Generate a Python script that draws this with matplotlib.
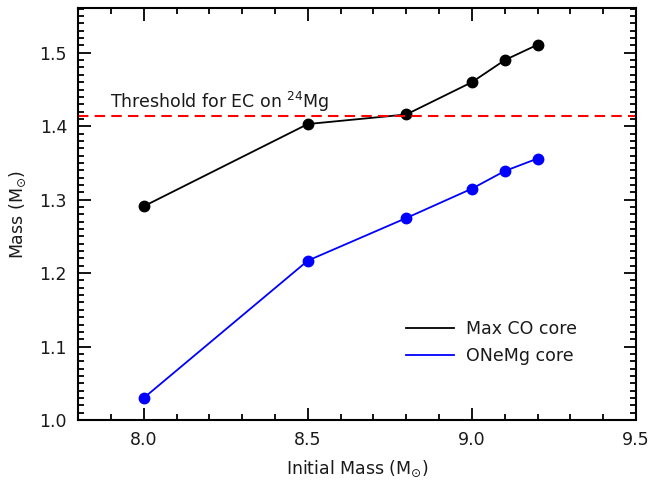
import matplotlib
matplotlib.use("Agg")
import matplotlib.pyplot as plt
from matplotlib.ticker import MultipleLocator, FormatStrFormatter

# Initial stellar masses (Msun)
initial_mass = [8.0, 8.5, 8.8, 9.0, 9.1, 9.2]
# Maximum CO core mass and ONeMg core mass (Msun)
max_co_core = [1.291, 1.403, 1.416, 1.460, 1.490, 1.511]
onemg_core = [1.030, 1.217, 1.275, 1.315, 1.339, 1.356]
# Threshold mass for electron captures on 24Mg
ec_threshold = 1.414

FS = 12.5
TXT = '#1a1a1a'
plt.rcParams['font.family'] = ['DejaVu Sans']
fig = plt.figure(figsize=(6.51, 4.87), dpi=100)
ax = fig.add_axes([0.12, 0.1376, 0.857, 0.846])

ax.plot(initial_mass, max_co_core, '-o', color='black', lw=1.3, ms=7.5,
        label='Max CO core')
ax.plot(initial_mass, onemg_core, '-o', color='blue', lw=1.3, ms=7.5,
        label='ONeMg core')
ax.axhline(ec_threshold, color='red', ls=(0, (5, 3)), lw=1.5)
ax.text(7.897, ec_threshold + 0.0105, r'Threshold for EC on $^{24}$Mg',
        fontsize=FS, color=TXT, va='baseline')

ax.set_xlim(7.8, 9.5)
ax.set_ylim(1.0, 1.561)
ax.xaxis.set_major_locator(MultipleLocator(0.5))
ax.xaxis.set_minor_locator(MultipleLocator(0.1))
ax.yaxis.set_major_locator(MultipleLocator(0.1))
ax.yaxis.set_minor_locator(MultipleLocator(0.01))
ax.xaxis.set_major_formatter(FormatStrFormatter('%.1f'))
ax.yaxis.set_major_formatter(FormatStrFormatter('%.1f'))
ax.tick_params(which='both', direction='in', top=True, right=True,
               width=1.3, labelsize=FS, labelcolor=TXT, pad=8)
ax.tick_params(which='major', length=9)
ax.tick_params(which='minor', length=4.5)
for s in ax.spines.values():
    s.set_linewidth(1.5)

ax.set_xlabel(r'Initial Mass (M$_{\odot}$)', fontsize=FS, color=TXT, labelpad=7)
ax.set_ylabel(r'Mass (M$_{\odot}$)', fontsize=FS, color=TXT, labelpad=8)

leg = ax.legend(loc='upper left', bbox_to_anchor=(0.559, 0.281), frameon=False,
                fontsize=FS, handlelength=2.8, handletextpad=0.65,
                labelspacing=0.55)
for h in leg.legend_handles:
    h.set_marker('')
    h.set_linewidth(1.3)
for t in leg.get_texts():
    t.set_color(TXT)

fig.savefig('out.png', dpi=100)
